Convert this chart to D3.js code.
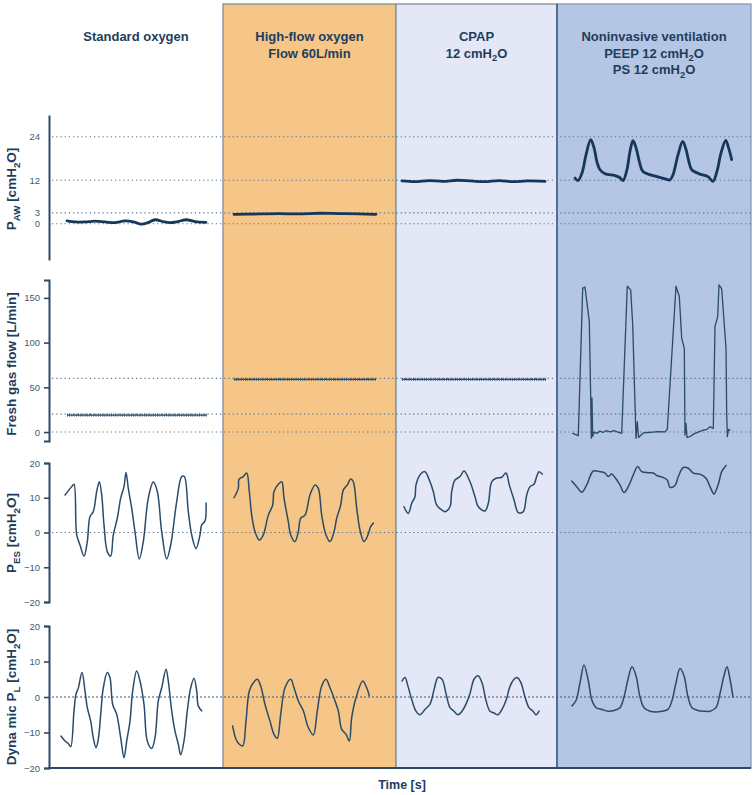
<!DOCTYPE html>
<html><head><meta charset="utf-8">
<script src="https://cdn.jsdelivr.net/npm/d3@7"></script>
<style>
body{margin:0;background:#fff}
svg{display:block}
text{font-family:"Liberation Sans",Arial,Helvetica,sans-serif}
</style>
</head><body>
<svg id="chart" width="755" height="795"></svg>
<script>
// ---------- DATA ----------
const modes = ["Standard oxygen", "High-flow oxygen", "CPAP", "Noninvasive ventilation"];
const modeHeaders = [
  ["Standard oxygen"],
  ["High-flow oxygen", "Flow 60L/min"],
  ["CPAP", "12 cmH_{2}O"],
  ["Noninvasive ventilation", "PEEP 12 cmH_{2}O", "PS 12 cmH_{2}O"]
];
// time (s) at which each mode segment starts / ends
const modeTimes = [0, 8.7, 17.35, 25.4, 35.1];

const pawTicks = [0, 3, 12, 24];
const flowTicks = [0, 50, 100, 150];
const pesTicks = [-20, -10, 0, 10, 20];
const plTicks = [-20, -10, 0, 10, 20];
const pawRefLines = [0, 3, 12, 24];
const flowRefLines = [0, 20, 60];
const pesRefLines = [0];
const plRefLines = [0];

// Airway pressure [cmH2O]
const pawStd = [[0.9,0.8],[1.3,0.5],[1.8,0.5],[2.3,0.7],[2.8,0.5],[3.3,0.3],[3.8,0.8],[4.3,0.4],[4.6,-0.1],[4.95,0.3],[5.3,1.1],[5.7,0.6],[6.05,0.3],[6.45,0.6],[6.85,1.1],[7.3,0.6],[7.85,0.4]];
const pawHfo = [[9.25,2.6],[10.5,2.7],[11.5,2.8],[12.5,2.7],[13.5,2.9],[14.5,2.8],[15.5,2.7],[16.35,2.6]];
const pawCpap = [[17.65,11.8],[18.3,11.6],[19.0,11.9],[19.7,11.7],[20.4,12.0],[21.1,11.8],[21.8,11.6],[22.5,11.9],[23.2,11.6],[23.9,11.8],[24.8,11.7]];
const pawNiv = [[26.3,12.6],[26.45,11.9],[26.65,14],[26.85,19],[27.085,23.2],[27.25,21],[27.4,17],[27.55,14.9],[27.8,13.8],[28.3,13.3],[28.55,12.7],[28.7,11.9],[28.9,15],[29.05,20],[29.2,22.9],[29.35,21],[29.525,17],[29.7,14.4],[30.4,13],[30.8,12.4],[31.05,12.1],[31.2,13.5],[31.45,19],[31.685,22.7],[31.85,20.5],[32.0,17],[32.135,14.9],[32.55,13.7],[32.95,13],[33.2,11.7],[33.4,14.5],[33.6,19.5],[33.835,23],[33.975,21],[34.135,17.7]];

// Fresh gas flow [L/min]
const flowStd = [[0.9,19],[7.9,19]];
const flowHfo = [[9.25,59],[16.35,59]];
const flowCpap = [[17.65,59],[24.85,59]];
const flowNiv = [[26.185,-1.5],[26.465,-4],[26.685,161],[26.8,162],[27.015,123.5],[27.085,39.5],[27.115,-7],[27.15,38],[27.185,-5],[27.25,0],[27.385,-1.5],[27.55,1],[27.7,-0.5],[27.85,1.5],[28.05,0.3],[28.25,1.5],[28.45,0],[28.635,-1.5],[28.915,163],[29.085,159],[29.185,120],[29.35,-7],[29.415,11.5],[29.475,-6],[29.715,-1],[29.95,-0.5],[30.2,0],[30.45,0.5],[30.8,0.3],[30.915,3],[31.35,163],[31.515,151.5],[31.635,105],[31.765,93.7],[31.8,-3.4],[31.85,9.7],[31.9,-6],[32.05,-5],[32.25,-2],[32.45,0],[32.715,2.2],[32.9,3],[33.05,6],[33.215,4],[33.3,118],[33.435,129],[33.5,164.6],[33.635,160],[33.85,93.7],[33.885,21],[33.915,-5],[33.975,3],[34.05,2.2]];

// Esophageal pressure [cmH2O]
const pesStd = [[0.8,10.8],[1.135,13.2],[1.25,13.9],[1.385,-0.7],[1.55,-3.6],[1.75,-6.8],[1.915,-2.6],[2.05,4.6],[2.215,6],[2.385,11.8],[2.515,14.6],[2.635,10.8],[2.75,2.2],[2.915,-5.5],[3.085,-6.8],[3.215,-0.7],[3.415,4.1],[3.585,9.9],[3.75,13.2],[3.85,17.3],[3.965,12.7],[4.135,7],[4.3,0.2],[4.515,-7.6],[4.715,-2.6],[4.965,9.9],[5.215,14.5],[5.415,11.8],[5.635,0.2],[5.885,-7.6],[6.085,-3.6],[6.385,8.9],[6.635,16.1],[6.765,16.1],[6.965,6],[7.135,-0.7],[7.35,-4.6],[7.55,-0.7],[7.635,2.2],[7.8,3.3],[7.85,8.5]];
const pesHfo = [[9.25,10],[9.465,12.7],[9.5,15.3],[9.715,16.1],[9.885,17.1],[10.015,11.8],[10.135,5],[10.3,0.2],[10.515,-2.2],[10.715,-0.7],[10.965,5],[11.185,7.9],[11.25,11.8],[11.465,13.9],[11.635,14.6],[11.75,9.9],[11.965,3.1],[12.085,-0.7],[12.3,-2.6],[12.465,0.2],[12.585,4.1],[12.8,5],[13.05,10.8],[13.3,13.7],[13.465,12.7],[13.635,5],[13.85,-0.7],[14.05,-2.6],[14.25,0.2],[14.385,4.1],[14.585,7.9],[14.715,12.2],[14.915,13.7],[15.085,15.4],[15.215,14.6],[15.385,7],[15.55,0.7],[15.75,-2.6],[15.915,-1.2],[16.085,1.7],[16.215,2.7]];
const pesCpap = [[17.75,7.4],[17.965,5.5],[18.135,8.4],[18.3,10.3],[18.35,13.7],[18.585,16.8],[18.8,17.5],[19.05,14.6],[19.215,11.8],[19.385,7.9],[19.635,6.5],[19.8,6],[20.05,7.4],[20.135,11.8],[20.3,15.1],[20.55,16.1],[20.75,17.7],[21.05,14.6],[21.3,10.3],[21.465,7.4],[21.8,6.2],[21.965,8.4],[22.135,14.6],[22.35,15.6],[22.635,15.9],[22.85,17.1],[23.015,13.7],[23.25,9.4],[23.465,5.7],[23.715,6],[23.885,10.8],[24.05,13.2],[24.25,13.9],[24.385,16.1],[24.5,17.5],[24.665,16.8]];
const pesNiv = [[26.135,14.8],[26.385,13.2],[26.635,11.6],[26.885,13.7],[27.215,17.7],[27.55,17.5],[27.8,17.1],[27.965,16.1],[28.135,16.8],[28.3,15.8],[28.55,13.7],[28.75,11.5],[28.965,13.2],[29.215,16.6],[29.435,19],[29.635,17.5],[29.965,17.2],[30.215,17.1],[30.385,16.4],[30.715,15.8],[30.915,15.1],[31.05,13],[31.3,13.5],[31.465,16.1],[31.715,18.7],[31.965,18.5],[32.215,17.1],[32.55,16.8],[32.85,15.6],[33.05,13.2],[33.25,11.1],[33.465,13.9],[33.635,17.5],[33.85,19.3]];

// Dynamic transpulmonary pressure [cmH2O]
const plStd = [[0.6,-11],[0.8,-12.4],[0.965,-13.1],[1.085,-14],[1.25,-3.9],[1.35,0.8],[1.465,2.5],[1.65,6.9],[1.8,1.7],[1.915,-3],[2.085,-6.8],[2.215,-11.5],[2.35,-14.3],[2.465,-11.9],[2.585,-4.9],[2.715,2.6],[2.915,6.9],[3.05,5.4],[3.185,-2.1],[3.385,-4.9],[3.585,-11.5],[3.75,-17.1],[3.885,-12.4],[4.05,-6.8],[4.185,1.7],[4.385,7.3],[4.55,4.5],[4.75,-2.1],[4.915,-12.4],[5.135,-14.5],[5.3,-11.5],[5.465,-1.1],[5.635,2.6],[5.85,7.8],[5.965,4.5],[6.135,-3.9],[6.3,-9.6],[6.465,-13.3],[6.585,-16.3],[6.75,-12.4],[6.915,-3.9],[7.085,2.6],[7.25,5.3],[7.385,1.7],[7.465,-2.5],[7.635,-3.9]];
const plHfo = [[9.185,-8.2],[9.35,-11.9],[9.515,-13.3],[9.685,-13.8],[9.85,-6.8],[10.015,1.7],[10.215,4],[10.415,5],[10.585,3.1],[10.8,-2.1],[11.05,-6.8],[11.25,-10.5],[11.415,-11.6],[11.585,-4.9],[11.8,2.6],[12.085,5],[12.25,2.6],[12.465,-1.1],[12.715,-3.9],[12.965,-8.6],[13.215,-10.7],[13.415,-3.9],[13.635,3.1],[13.85,5],[14.05,2.6],[14.3,-1.1],[14.465,-3.9],[14.635,-9.1],[14.85,-10.5],[15.015,-12.4],[15.135,-5.8],[15.35,-0.2],[15.685,4.5],[15.885,2.6],[16.015,0.3]];
const plCpap = [[17.65,4.5],[17.8,5.5],[17.95,3],[18.15,-1],[18.35,-4],[18.55,-5],[18.8,-3.5],[19.05,-2],[19.25,2],[19.45,5.5],[19.65,5],[19.85,1],[20.05,-3],[20.25,-4],[20.45,-5],[20.65,-4],[20.85,-2],[21.05,1],[21.25,5],[21.45,6],[21.65,4],[21.85,-1],[22.05,-4],[22.25,-4.5],[22.45,-5],[22.65,-3.5],[22.85,-1],[23.05,3],[23.25,5],[23.4,5.5],[23.6,4],[23.8,0],[24.0,-3],[24.2,-4],[24.35,-5],[24.5,-4]];
const plNiv = [[26.15,-2.5],[26.35,-1],[26.55,4],[26.75,9],[26.95,5],[27.15,-1],[27.35,-3],[27.65,-3.5],[27.95,-4],[28.25,-3.8],[28.55,-3],[28.75,0],[28.95,5],[29.15,8.5],[29.35,6],[29.55,0],[29.75,-3],[30.05,-4],[30.35,-4.2],[30.65,-4],[30.95,-3.5],[31.15,-1],[31.35,4],[31.55,8],[31.75,6],[31.95,0],[32.15,-3],[32.45,-3.8],[32.75,-4],[33.05,-4],[33.35,-3],[33.55,1],[33.75,6],[33.9,8.5],[34.05,5],[34.2,0]];

// ---------- LAYOUT / STYLE ----------
const W = 755, H = 795;
const plotLeft = 49, plotRight = 751, boxTop = 4, plotBottom = 768;
const fills = ["#ffffff", "#F5C688", "#E3E7F6", "#B5C5E4"];
const navy = "#1e3d5c", axisCol = "#2b4a68", tickCol = "#3e5a75", traceCol = "#2a4b69", gridCol = "#5f7890";

const svg = d3.select("#chart");
const x = d3.scaleLinear().domain([modeTimes[0], modeTimes[4]]).range([plotLeft, plotRight]);

function rich(sel, str, size) {
  const parts = str.split(/(_\{[^}]*\})/).filter(p => p.length);
  let shifted = false;
  parts.forEach(p => {
    if (p.startsWith("_{")) {
      sel.append("tspan").attr("font-size", size * 0.72).attr("dy", size * 0.28).text(p.slice(2, -1));
      shifted = true;
    } else {
      const t = sel.append("tspan").text(p);
      if (shifted) { t.attr("dy", -size * 0.28); shifted = false; }
    }
  });
}

// backgrounds
for (let i = 1; i < 4; i++) {
  svg.append("rect")
    .attr("x", x(modeTimes[i])).attr("y", boxTop)
    .attr("width", x(modeTimes[i + 1]) - x(modeTimes[i]))
    .attr("height", plotBottom - boxTop)
    .attr("fill", fills[i])
    .attr("stroke", i === 3 ? "#8497b8" : "#7d8e9f").attr("stroke-width", 1.3);
}
svg.append("line").attr("x1", x(modeTimes[3])).attr("x2", x(modeTimes[3]))
  .attr("y1", boxTop).attr("y2", plotBottom).attr("stroke", "#3f5b82").attr("stroke-width", 1.5);

// headers
modeHeaders.forEach((lines, i) => {
  const cx = (x(modeTimes[i]) + x(modeTimes[i + 1])) / 2;
  lines.forEach((ln, j) => {
    const t = svg.append("text").attr("x", cx).attr("y", 41 + j * 16.5)
      .attr("text-anchor", "middle").attr("font-weight", "bold")
      .attr("font-size", 13).attr("fill", navy);
    rich(t, ln, 13);
  });
});

const panels = [
  { label: "P_{AW} [cmH_{2}O]", domain: [-10, 30], range: [260, 115], ticks: pawTicks, refs: pawRefLines, marks: false, series: [pawStd, pawHfo, pawCpap, pawNiv], width: 2.8, dash: "1.3,2.9", labelY: 189 },
  { label: "Fresh gas flow [L/min]", domain: [-10, 170], range: [441, 280], ticks: flowTicks, refs: flowRefLines, marks: true, series: [flowStd, flowHfo, flowCpap, flowNiv], width: 1.3, dash: "1.3,2.9", labelY: 364 },
  { label: "P_{ES} [cmH_{2}O]", domain: [-20, 20], range: [602, 463], ticks: pesTicks, refs: pesRefLines, marks: true, series: [pesStd, pesHfo, pesCpap, pesNiv], width: 1.5, dash: "1.3,2.9", labelY: 533 },
  { label: "Dyna mic P_{L} [cmH_{2}O]", domain: [-20, 20], range: [768, 626], ticks: plTicks, refs: plRefLines, marks: true, series: [plStd, plHfo, plCpap, plNiv], width: 1.5, dash: "2,2", labelY: 697 }
];

panels.forEach((p, pi) => {
  const y = d3.scaleLinear().domain(p.domain).range(p.range);
  const g = svg.append("g");
  // reference lines
  p.refs.forEach(v => {
    g.append("line").attr("x1", 52).attr("x2", plotRight)
      .attr("y1", y(v)).attr("y2", y(v))
      .attr("stroke", pi === 3 ? "#3d5a78" : gridCol).attr("stroke-width", 1.1)
      .attr("stroke-dasharray", p.dash);
  });
  // axis
  const ax = d3.axisLeft(y).tickValues(p.ticks).tickSize(p.marks ? 5 : 0).tickPadding(p.marks ? 4 : 9).tickFormat(d3.format("d"));
  const axg = svg.append("g").attr("transform", `translate(${plotLeft},0)`).call(ax);
  axg.select(".domain").attr("stroke", axisCol).attr("stroke-width", 2);
  axg.selectAll(".tick line").attr("stroke", axisCol).attr("stroke-width", 1.6);
  axg.selectAll(".tick text").attr("fill", tickCol).attr("font-size", 9.5)
    .attr("font-family", "'Liberation Sans', Arial, sans-serif");
  // y label
  const lt = svg.append("text").attr("transform", `translate(16,${p.labelY}) rotate(-90)`)
    .attr("text-anchor", "middle").attr("font-weight", "bold").attr("font-size", 13.5).attr("fill", navy);
  rich(lt, p.label, 13.5);
  // traces
  p.series.forEach((s, si) => {
    const flat = pi === 1 && si < 3;
    const line = d3.line().x(d => x(d[0])).y(d => y(d[1]))
      .curve(pi === 1 ? d3.curveLinear : d3.curveCatmullRom.alpha(0.5));
    if (flat) {
      g.append("path").attr("d", line(s)).attr("fill", "none").attr("stroke", traceCol).attr("stroke-width", 1.2);
      g.append("path").attr("d", line(s)).attr("fill", "none").attr("stroke", traceCol)
        .attr("stroke-width", 3.2).attr("stroke-dasharray", "0.9,1.3").attr("opacity", 0.8);
    } else {
      g.append("path").attr("d", line(s)).attr("fill", "none")
        .attr("stroke", pi === 0 ? "#17375a" : traceCol)
        .attr("stroke-width", p.width).attr("stroke-linejoin", "round").attr("stroke-linecap", "round");
    }
  });
});

// bottom axis line
svg.append("line").attr("x1", plotLeft - 1).attr("x2", plotRight).attr("y1", plotBottom).attr("y2", plotBottom)
  .attr("stroke", axisCol).attr("stroke-width", 2);

svg.append("text").attr("x", (plotLeft + plotRight) / 2 + 2).attr("y", 789)
  .attr("text-anchor", "middle").attr("font-weight", "bold").attr("font-size", 12.5).attr("fill", navy)
  .text("Time [s]");
</script>
</body></html>
